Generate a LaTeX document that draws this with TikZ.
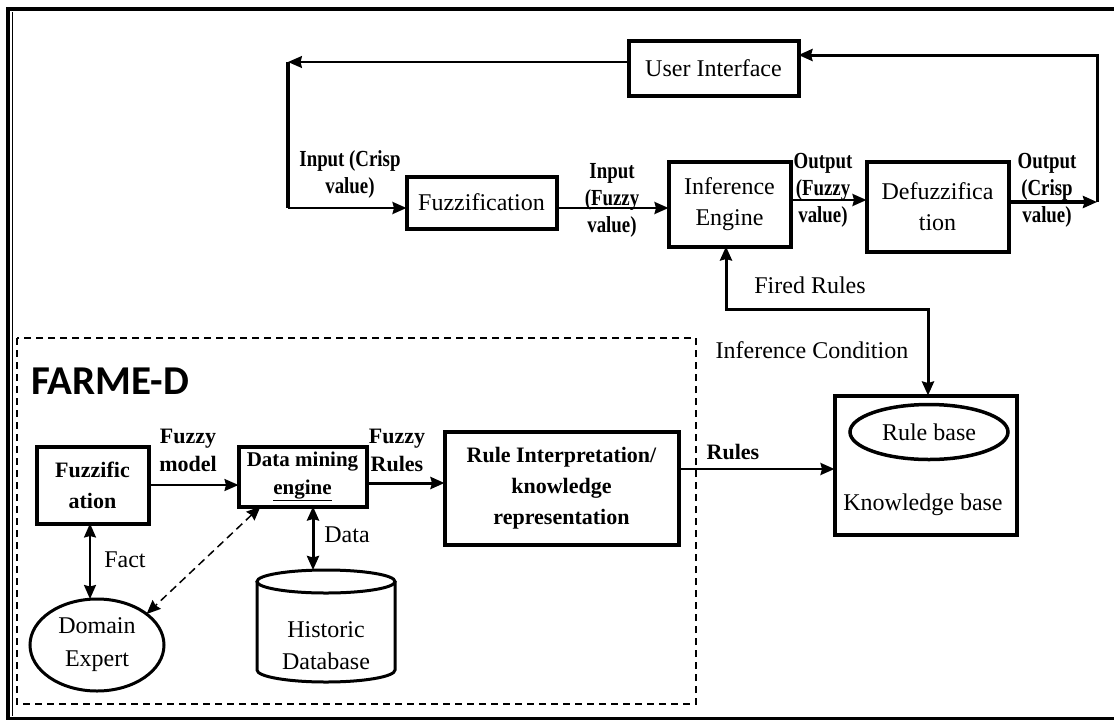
\documentclass[tikz,border=0pt]{standalone}
\usepackage{fontspec}
\setmainfont{Liberation Serif}
\newfontfamily\condserif[FakeStretch=0.82]{Liberation Serif}
\newfontfamily\headsans{Carlito}
\usetikzlibrary{arrows.meta,shapes.geometric}

\begin{document}
\begin{tikzpicture}[x=1pt,y=-1pt,
  every node/.style={inner sep=0pt, outer sep=0pt},
  reg/.style={font=\fontsize{24}{31}\selectfont, align=center},
  regbold/.style={font=\bfseries\fontsize{22}{31}\selectfont, align=center},
  lbl/.style={font=\condserif\bfseries\fontsize{23}{27}\selectfont, align=center},
  blk/.style={draw, line width=4pt, align=center},
  arr/.style={-{Stealth[length=14pt,width=12pt,inset=1.5pt]}},
  darr/.style={{Stealth[length=14pt,width=12pt,inset=1.5pt]}-{Stealth[length=14pt,width=12pt,inset=1.5pt]}},
]
% page and outer frame
\useasboundingbox (0,0) rectangle (1114,721);
\fill[white] (0,0) rectangle (1114,721);
\draw[line width=3.5pt] (6,9) -- (1114,9);
\draw[line width=3.5pt] (8,7) -- (8,719);
\draw[line width=1pt] (12.5,12) -- (12.5,716);
\draw[line width=2.5pt] (6,718.5) -- (1114,718.5);

% FARME-D group
\draw[line width=2.5pt, dash pattern=on 7pt off 5pt] (17,338) rectangle (696,704);
\node[anchor=west, font=\headsans\bfseries\fontsize{41}{41}\selectfont] (title) at (31,381) {FARME-D};

% fuzzy inference chain
\node[blk, reg, minimum width=170pt, minimum height=55pt] (ui) at (713.5,68) {User Interface};
\node[blk, reg, minimum width=150pt, minimum height=52pt] (fza) at (481.5,202.5) {Fuzzification};
\node[blk, reg, minimum width=122pt, minimum height=85pt] (ie) at (729.5,204) {Inference\\Engine};
\node[blk, reg, minimum width=142pt, minimum height=90pt] (dfz) at (937.5,206.5) {Defuzzifica\\tion};

% knowledge base
\node[blk, minimum width=182pt, minimum height=139pt] (kb) at (925.5,465) {};
\node[draw, ellipse, line width=3.5pt, reg, minimum width=158pt, minimum height=55pt] (rb) at (929,432) {Rule base};
\node[reg] (kbt) at (923,505) {Knowledge base};

% FARME-D blocks
\node[blk, regbold, minimum width=234pt, minimum height=113pt] (ri) at (561.5,488) {Rule Interpretation/\\knowledge\\representation};
\node[blk, regbold, minimum width=112pt, minimum height=77pt] (fzb) at (92.5,485) {Fuzzific\\ation};
\node[blk, font=\bfseries\fontsize{21}{28}\selectfont, minimum width=128pt, minimum height=60pt] (dme) at (302.5,476.5) {Data mining\\\underline{engine}};
\node[draw, ellipse, line width=3pt, font=\fontsize{24}{33}\selectfont, align=center, minimum width=134pt, minimum height=92pt] (de) at (97,645) {Domain\\Expert};

% historic database cylinder
\node[minimum width=138pt, minimum height=112pt] (hdb) at (326,626) {};
\node[font=\fontsize{24}{32}\selectfont, align=center] (hdbt) at (326,646) {Historic\\Database};
\draw[line width=3pt] ([yshift=-11.5pt]hdb.north) ellipse [x radius=69pt, y radius=11.5pt];
\draw[line width=3pt] ([yshift=-11.5pt]hdb.north west) -- ([yshift=12pt]hdb.south west)
  arc[start angle=180, end angle=360, x radius=69pt, y radius=12pt] -- ([yshift=-11.5pt]hdb.north east);

% top loop: user interface back to fuzzification
\coordinate (lc) at (288,62);
\coordinate (fzin) at ([yshift=-5.5pt]fza.west);
\draw[line width=1.8pt, arr] ([yshift=6pt]ui.west) -- (lc);
\draw[line width=4pt] (lc) -- (lc |- fzin);
\draw[line width=2.5pt, arr] (lc |- fzin) -- (fzin);

% main chain
\draw[line width=2.5pt, arr] ([yshift=-5.5pt]fza.east) -- ([yshift=-5.5pt]fza.east -| ie.west);
\draw[line width=2.5pt, arr] ([yshift=4pt]ie.east) -- ([yshift=4pt]ie.east -| dfz.west);
\coordinate (rc) at (1097,202);
\draw[line width=3.5pt, arr] ([yshift=4.5pt]dfz.east) -- (rc);
\draw[line width=3pt, arr] (rc) |- ([yshift=13pt]ui.east);

% fired rules / inference condition
\draw[line width=3pt, darr] ([xshift=-3.5pt]ie.south) -- ++(0,63) -| ([xshift=2.5pt]kb.north);

% FARME-D connectors
\draw[line width=2.5pt, arr] ([yshift=19pt]ri.east) -- ([yshift=19pt]ri.east -| kb.west);
\draw[line width=2pt, arr] (fzb.east) -- (fzb.east -| dme.west);
\draw[line width=3pt, arr] ([yshift=-6.5pt]dme.east) -- ([yshift=-6.5pt]dme.east -| ri.west);
\draw[line width=2pt, darr] ([xshift=-2.5pt]fzb.south) -- ([xshift=-2.5pt]fzb.south |- de.north);
\draw[line width=3pt, darr] ([xshift=10.5pt]dme.south) -- ([xshift=10.5pt]dme.south |- hdb.north);
\draw[line width=1.5pt, dash pattern=on 8pt off 5pt, darr] ([xshift=-42pt]dme.south) -- (de.32);

% labels
\node[lbl] (lcrisp) at (350,174) {Input (Crisp\\value)};
\node[lbl] (lfuzin) at (612,200) {Input\\(Fuzzy\\value)};
\node[lbl] (lfuzout) at (823,190) {Output\\(Fuzzy\\value)};
\node[lbl] (lcrout) at (1047,190) {Output\\(Crisp\\value)};
\node[font=\bfseries\fontsize{22}{28}\selectfont, align=center] (lmodel) at (188,450) {Fuzzy\\model};
\node[font=\bfseries\fontsize{22}{28}\selectfont, align=center] (lfrules) at (397,450) {Fuzzy\\Rules};
\node[reg] (lfact) at (125,560) {Fact};
\node[reg] (ldata) at (347,535) {Data};
\node[font=\bfseries\fontsize{22}{28}\selectfont] (lrules) at (733,452) {Rules};
\node[reg] (lfired) at (810,285) {Fired Rules};
\node[reg] (lcond) at (812,350) {Inference Condition};
\end{tikzpicture}
\end{document}
